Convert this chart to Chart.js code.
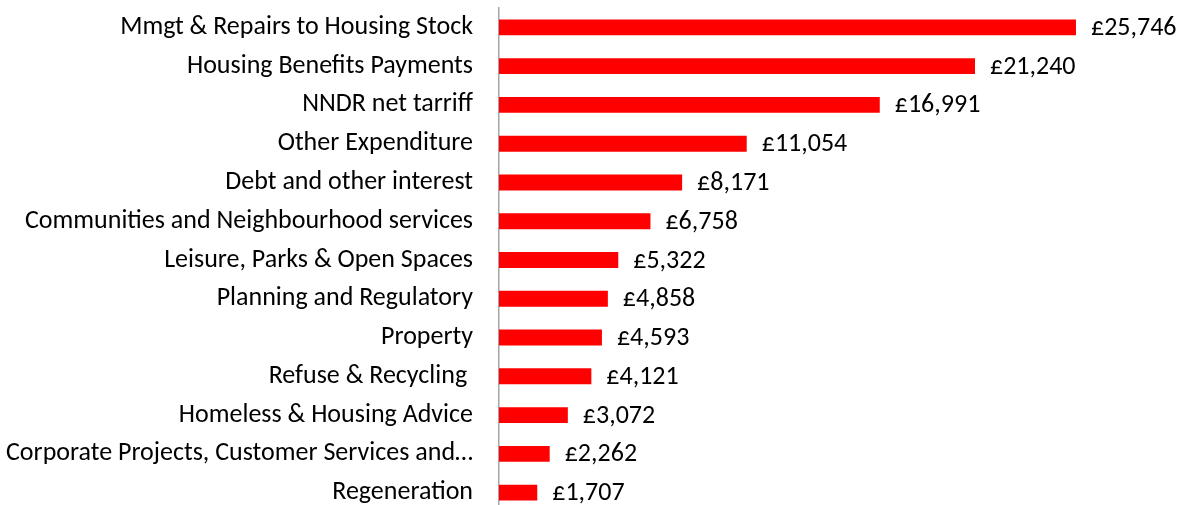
<!DOCTYPE html>
<html>
<head>
<meta charset="utf-8">
<script src="https://cdn.jsdelivr.net/npm/chart.js@4/dist/chart.umd.min.js"></script>
<style>
  html, body { margin: 0; padding: 0; background: #fff; overflow: hidden; }
  canvas { display: block; }
</style>
</head>
<body>
<canvas id="myChart" width="1182" height="512"></canvas>
<script>
const categories = [
    'Mmgt & Repairs to Housing Stock',
    'Housing Benefits Payments',
    'NNDR net tarriff',
    'Other Expenditure',
    'Debt and other interest',
    'Communities and Neighbourhood services',
    'Leisure, Parks & Open Spaces',
    'Planning and Regulatory',
    'Property',
    'Refuse & Recycling ',
    'Homeless & Housing Advice',
    'Corporate Projects, Customer Services and\u2026',
    'Regeneration'
];
const spend = [25746, 21240, 16991, 11054, 8171, 6758, 5322, 4858, 4593, 4121, 3072, 2262, 1707];

const fontFamily = 'Carlito, Lato, "Noto Sans", sans-serif';
const fontSize = 26;

// draws the £ value just past the end of each bar
const valueLabels = {
    id: 'valueLabels',
    afterDatasetsDraw(chart) {
        const ctx = chart.ctx;
        const meta = chart.getDatasetMeta(0);
        ctx.save();
        ctx.font = fontSize + 'px ' + fontFamily;
        ctx.fillStyle = '#000';
        ctx.textAlign = 'left';
        ctx.textBaseline = 'middle';
        meta.data.forEach((bar, i) => {
            const v = chart.data.datasets[0].data[i];
            ctx.fillText('\u00a3' + v.toLocaleString('en-GB'), bar.x + 15, bar.y + 1);
        });
        ctx.restore();
    }
};

document.addEventListener('DOMContentLoaded', () => {
    const data = {
        labels: categories,
        datasets: [{
            data: spend,
            backgroundColor: '#ff0000',
            borderWidth: 0,
            barPercentage: 0.41,
            categoryPercentage: 1
        }]
    };

    const config = {
        type: 'bar',
        data: data,
        plugins: [valueLabels],
        options: {
            indexAxis: 'y',
            responsive: false,
            animation: false,
            layout: {
                padding: { left: 0, right: 10.7, top: 8, bottom: 0 }
            },
            plugins: {
                legend: { display: false },
                tooltip: { enabled: false }
            },
            scales: {
                x: {
                    display: false,
                    min: 0,
                    max: 30000
                },
                y: {
                    // tick marks hidden, tickLength only used as the label gap
                    grid: { display: false, drawTicks: true, tickLength: 26 },
                    border: { display: true, color: '#a6a6a6', width: 1.5 },
                    ticks: {
                        color: '#000',
                        padding: 0,
                        autoSkip: false,
                        font: { family: fontFamily, size: fontSize }
                    },
                    afterFit(scale) {
                        scale.width = 499;
                        scale.paddingTop = 0;
                        scale.paddingBottom = 0;
                    }
                }
            }
        }
    };

    const ctx = document.getElementById('myChart');
    if (ctx) {
        new Chart(ctx, config);
    }
});
</script>
</body>
</html>
